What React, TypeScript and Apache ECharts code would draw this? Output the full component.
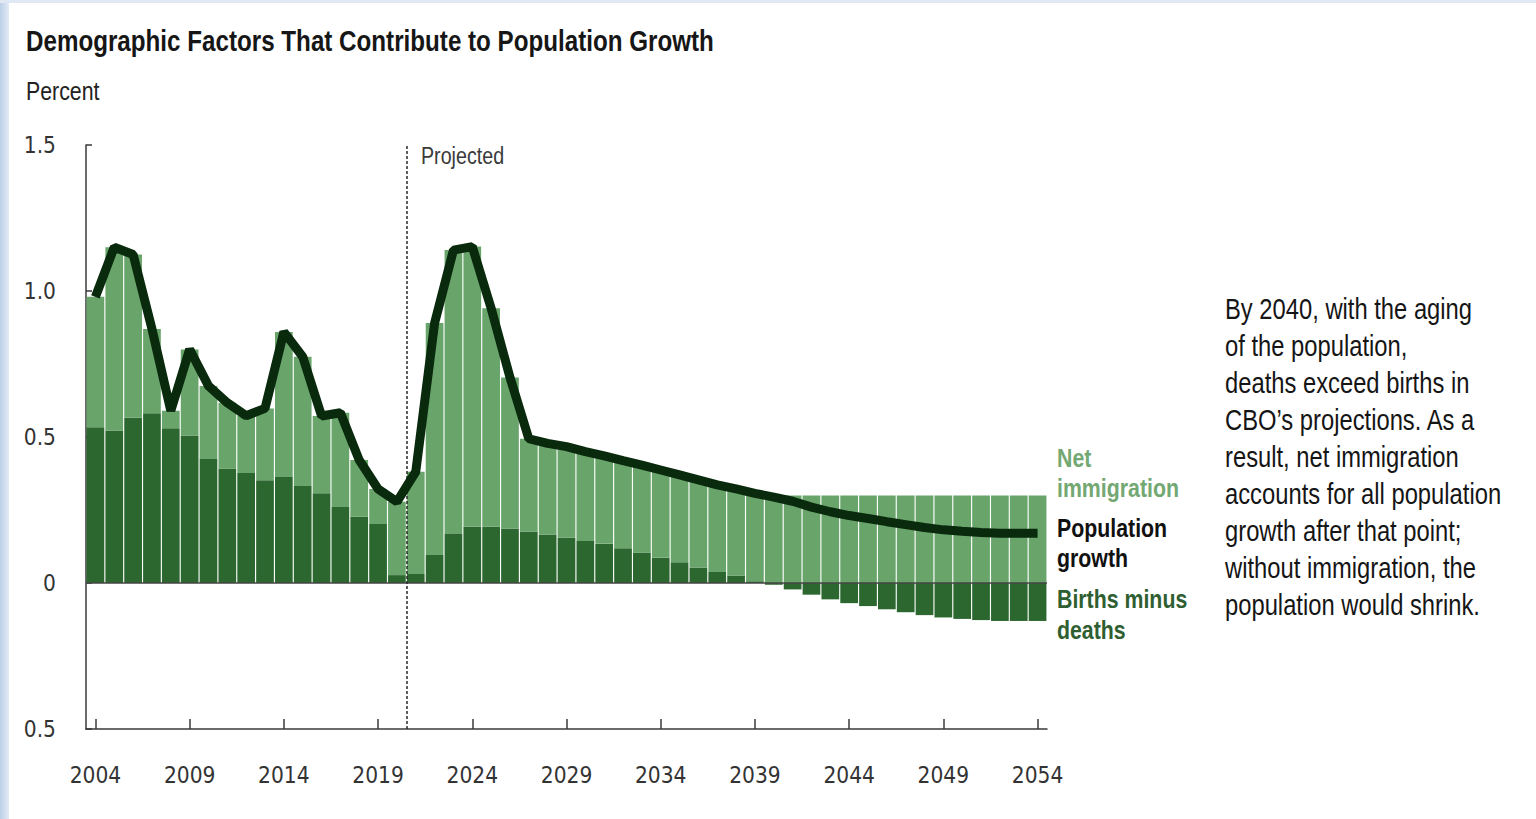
import React, { useEffect, useRef } from "react";
import * as echarts from "echarts";

const years = Array.from({ length: 51 }, (_, i) => String(2004 + i));

const birthsMinusDeaths = [
  0.533, 0.522, 0.566, 0.581, 0.53, 0.505, 0.425, 0.392, 0.377, 0.352,
  0.363, 0.332, 0.307, 0.26, 0.227, 0.202, 0.027, 0.031, 0.096, 0.17,
  0.193, 0.193, 0.187, 0.176, 0.166, 0.155, 0.144, 0.134, 0.119, 0.104,
  0.087, 0.071, 0.053, 0.038, 0.025, 0.006, -0.006, -0.022, -0.04, -0.056,
  -0.069, -0.079, -0.09, -0.1, -0.11, -0.118, -0.123, -0.127, -0.13, -0.13,
  -0.13,
];

const netImmigration = [
  0.447, 0.628, 0.559, 0.289, 0.06, 0.295, 0.25, 0.225, 0.196, 0.246,
  0.497, 0.443, 0.265, 0.323, 0.194, 0.12, 0.251, 0.35, 0.794, 0.97,
  0.959, 0.748, 0.517, 0.318, 0.312, 0.312, 0.306, 0.301, 0.3, 0.3,
  0.3, 0.3, 0.3, 0.3, 0.3, 0.3, 0.3, 0.3, 0.3, 0.3,
  0.3, 0.3, 0.3, 0.3, 0.3, 0.3, 0.3, 0.3, 0.3, 0.3,
  0.3,
];

const populationGrowth = [
  0.98, 1.15, 1.125, 0.87, 0.59, 0.8, 0.675, 0.617, 0.573, 0.598,
  0.86, 0.775, 0.572, 0.583, 0.421, 0.322, 0.278, 0.381, 0.89, 1.14,
  1.152, 0.941, 0.704, 0.494, 0.478, 0.467, 0.45, 0.435, 0.419, 0.404,
  0.387, 0.37, 0.353, 0.336, 0.322, 0.307, 0.294, 0.28, 0.26, 0.244,
  0.231, 0.221, 0.21, 0.2, 0.19, 0.182, 0.177, 0.173, 0.17, 0.17,
  0.17,
];

const yMin = -0.5;
const yMax = 1.5;
const yStep = 0.5;
const projectionBoundary = 2020.5;

const titleText = "Demographic Factors That Contribute to Population Growth";
const unitText = "Percent";
const projectedText = "Projected";
const noteLines = [
  "By 2040, with the aging",
  "of the population,",
  "deaths exceed births in",
  "CBO\u2019s projections. As a",
  "result, net immigration",
  "accounts for all population",
  "growth after that point;",
  "without immigration, the",
  "population would shrink.",
];

const TEXT_FONT = "'Liberation Sans', Arial, sans-serif";
const AXIS_FONT = "'DejaVu Sans Condensed', 'Liberation Sans', sans-serif";
const NARROW = 0.82;

const LIGHT = "#69a56b";
const DARK = "#2b672e";
const LINE = "#0a2a0d";
const AXIS = "#3a3a3a";

export default function App() {
  const ref = useRef<HTMLDivElement>(null);

  useEffect(() => {
    if (!ref.current) return;
    const chart = echarts.init(ref.current, null, { renderer: "svg" });
    const every5 = (i: number) => i % 5 === 0;

    const label = (
      text: string,
      x: number,
      y: number,
      font: string,
      fill: string,
      extra: Record<string, unknown> = {}
    ) => ({
      type: "text",
      x,
      y,
      scaleX: NARROW,
      style: { text, font, fill, verticalAlign: "middle", ...extra },
    });

    chart.setOption({
      animation: false,
      backgroundColor: "#ffffff",
      textStyle: { fontFamily: AXIS_FONT },
      grid: { left: 86, right: 489, top: 145, bottom: 90, containLabel: false },
      xAxis: [
        {
          type: "category",
          data: years,
          position: "bottom",
          axisLine: { onZero: false, lineStyle: { color: AXIS, width: 1.5 } },
          axisTick: {
            show: true,
            inside: true,
            length: 10,
            alignWithLabel: true,
            interval: every5,
            lineStyle: { color: AXIS, width: 1.5 },
          },
          axisLabel: {
            interval: every5,
            margin: 34,
            fontSize: 22.5,
            color: "#333333",
            fontFamily: AXIS_FONT,
          },
          splitLine: { show: false },
        },
        { type: "value", min: 2003.5, max: 2054.5, show: false },
      ],
      yAxis: {
        type: "value",
        min: yMin,
        max: yMax,
        interval: yStep,
        axisLine: { show: true, lineStyle: { color: AXIS, width: 1.5 } },
        axisTick: { show: true, inside: true, length: 6, lineStyle: { color: AXIS, width: 1.5 } },
        splitLine: { show: false },
        axisLabel: {
          fontSize: 22.5,
          margin: 30,
          color: "#333333",
          fontFamily: AXIS_FONT,
          formatter: (v: number) => (v === 0 ? "0" : Math.abs(v).toFixed(1)),
        },
      },
      series: [
        {
          name: "Births minus deaths",
          type: "bar",
          stack: "total",
          data: birthsMinusDeaths,
          barCategoryGap: "6%",
          itemStyle: { color: DARK },
          z: 2,
          markLine: {
            silent: true,
            symbol: "none",
            label: { show: false },
            lineStyle: { color: "#444444", width: 1.5, type: "solid" },
            data: [{ yAxis: 0 }],
            z: 4,
          },
        },
        {
          name: "Net immigration",
          type: "bar",
          stack: "total",
          data: netImmigration,
          barCategoryGap: "6%",
          itemStyle: { color: LIGHT },
          z: 2,
        },
        {
          name: "Population growth",
          type: "line",
          data: populationGrowth,
          symbol: "none",
          lineStyle: { color: LINE, width: 9 },
          z: 6,
        },
        {
          name: "projection",
          type: "line",
          xAxisIndex: 1,
          yAxisIndex: 0,
          data: [],
          markLine: {
            silent: true,
            symbol: "none",
            label: { show: false },
            lineStyle: { color: "#2a2a2a", width: 1.5, type: [3, 2] },
            data: [{ xAxis: projectionBoundary }],
            z: 5,
          },
        },
      ],
      graphic: [
        {
          type: "rect",
          shape: { x: 0, y: 0, width: 9, height: 819 },
          style: {
            fill: new echarts.graphic.LinearGradient(0, 0, 1, 0, [
              { offset: 0, color: "#bccfe8" },
              { offset: 1, color: "#e3ebf5" },
            ]),
          },
          silent: true,
        },
        {
          type: "rect",
          shape: { x: 0, y: 0, width: 1536, height: 3 },
          style: { fill: "#dfe8f3" },
          silent: true,
        },
        label(titleText, 26, 41, `bold 29.5px ${TEXT_FONT}`, "#161616"),
        label(unitText, 26, 91, `26px ${TEXT_FONT}`, "#222222"),
        label(projectedText, 421, 156, `24px ${TEXT_FONT}`, "#3a3a3a"),
        label("Net\nimmigration", 1057, 443, `bold 26px ${TEXT_FONT}`, "#73a873", {
          verticalAlign: "top",
          lineHeight: 30,
        }),
        label("Population\ngrowth", 1057, 513, `bold 26px ${TEXT_FONT}`, "#111111", {
          verticalAlign: "top",
          lineHeight: 30,
        }),
        label("Births minus\ndeaths", 1057, 583, `bold 26px ${TEXT_FONT}`, "#2f5f31", {
          verticalAlign: "top",
          lineHeight: 31,
        }),
        label(noteLines.join("\n"), 1225, 290.5, `29px ${TEXT_FONT}`, "#151515", {
          verticalAlign: "top",
          lineHeight: 37,
        }),
      ],
    });

    return () => {
      chart.dispose();
    };
  }, []);

  return (
    <div
      ref={ref}
      style={{ position: "fixed", left: 0, top: 0, width: 1536, height: 819 }}
    />
  );
}
